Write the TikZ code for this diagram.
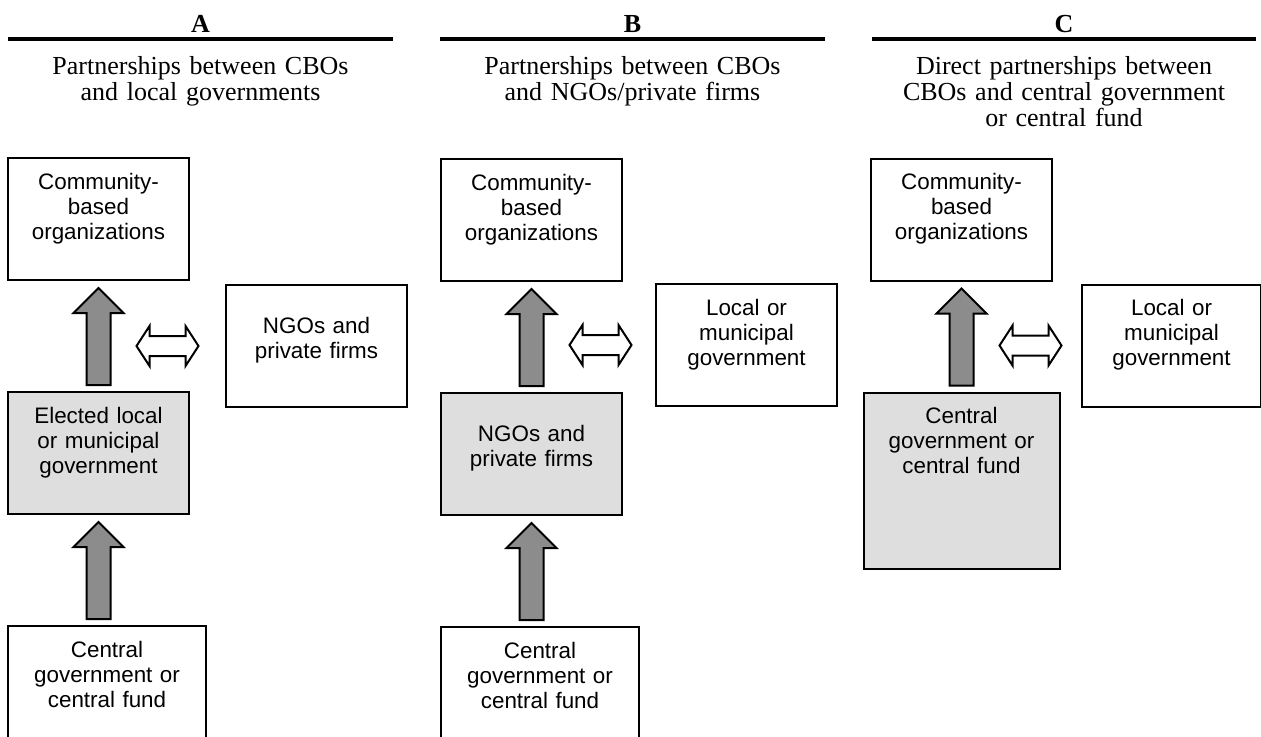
\documentclass[tikz,border=0pt]{standalone}
\usepackage{fontspec}
\setmainfont{Liberation Serif}
\setsansfont{Liberation Sans}
\usetikzlibrary{positioning,calc}

\newcommand{\flowup}[2]{%
  \draw[flow] let \p1=($(#2.south)+(0,7)$), \p2=($(#1.north)+(0,-6)$) in
    (\p1) -- (\x1+12.5pt,\y1-12.5pt) -- (\x1+6pt,\y1-12.5pt) -- (\x1+6pt,\y2)
    -- (\x1-6pt,\y2) -- (\x1-6pt,\y1-12.5pt) -- (\x1-12.5pt,\y1-12.5pt) -- cycle;}
\newcommand{\flowboth}[2]{%
  \draw[link] let \p1=($(#1.south |- #2.west)+(38,0)$) in
    (\p1) -- (\x1+6.5pt,\y1+10pt) -- (\x1+6.5pt,\y1+5pt) -- (\x1+24.5pt,\y1+5pt)
    -- (\x1+24.5pt,\y1+10pt) -- (\x1+31pt,\y1) -- (\x1+24.5pt,\y1-10pt)
    -- (\x1+24.5pt,\y1-5pt) -- (\x1+6.5pt,\y1-5pt) -- (\x1+6.5pt,\y1-10pt) -- cycle;}

\begin{document}
\begin{tikzpicture}
		[x=0.5pt,y=-0.5pt,
		plain/.style={draw,line width=1pt,fill=white,inner sep=0pt,align=center,text width=85pt,minimum width=90.5pt,
			font=\sffamily\fontsize{11.2pt}{12.6pt}\selectfont,text height=15.5pt,text depth=45.5pt},
		shaded/.style={plain,fill=black!13},
		twoline/.style={text height=24pt,text depth=37pt},
		wide/.style={minimum width=99pt},
		head/.style={font=\bfseries\fontsize{13pt}{13pt}\selectfont,anchor=base},
		title/.style={font=\fontsize{13pt}{13pt}\selectfont,align=center,text width=190pt,anchor=base},
		rule/.style={line width=1.8pt},
		flow/.style={draw,line width=1pt,fill=black!45,line join=miter},
		link/.style={draw,line width=1pt,fill=white,line join=miter}]
		\useasboundingbox (0,0) rectangle (1261,736);

		\node [head] (hA) at (200.5,32) {A};
		\node [head] (hB) at (632.5,32) {B};
		\node [head] (hC) at (1064,32) {C};
		\draw [rule] ($(hA.base)+(-192.5,7)$) -- ++(385,0);
		\draw [rule] ($(hB.base)+(-192.5,7)$) -- ++(385,0);
		\draw [rule] ($(hC.base)+(-192,7)$) -- ++(384,0);

		\node [title] (tA) at (200.5,74) {Partnerships between CBOs\\and local governments};
		\node [title] (tB) at (632.5,74) {Partnerships between CBOs\\and NGOs/private firms};
		\node [title] (tC) at (1064,74) {Direct partnerships between\\CBOs and central government\\or central fund};

		\node [plain] (cboA) at (98.5,219) {Community-\\based\\organizations};
		\node [shaded] (govA) [below=55pt of cboA] {Elected local\\or municipal\\government};
		\node [plain,wide] (cenA) [below=55pt of govA.south west,anchor=north west] {Central\\government or\\central fund};
		\node [plain,twoline] (ngoA) [right=17.5pt of cboA.south east,anchor=north west,yshift=-1.5pt] {NGOs and\\private firms};

		\node [plain] (cboB) at (531.5,220) {Community-\\based\\organizations};
		\node [shaded,twoline] (ngoB) [below=55pt of cboB] {NGOs and\\private firms};
		\node [plain,wide] (cenB) [below=55pt of ngoB.south west,anchor=north west] {Central\\government or\\central fund};
		\node [plain] (locB) [right=16pt of cboB.south east,anchor=north west,yshift=-0.5pt] {Local or\\municipal\\government};

		\node [plain] (cboC) at (961.5,219.5) {Community-\\based\\organizations};
		\node [shaded,minimum width=98pt,text depth=72.5pt] (cenC) [below=55pt of cboC] {Central\\government or\\central fund};
		\node [plain,minimum width=89.5pt] (locC) [right=14pt of cboC.south east,anchor=north west,yshift=-1pt] {Local or\\municipal\\government};

		\flowup{govA}{cboA}
		\flowup{cenA}{govA}
		\flowup{ngoB}{cboB}
		\flowup{cenB}{ngoB}
		\flowup{cenC}{cboC}
		\flowboth{cboA}{ngoA}
		\flowboth{cboB}{locB}
		\flowboth{cboC}{locC}

	\end{tikzpicture}
\end{document}
